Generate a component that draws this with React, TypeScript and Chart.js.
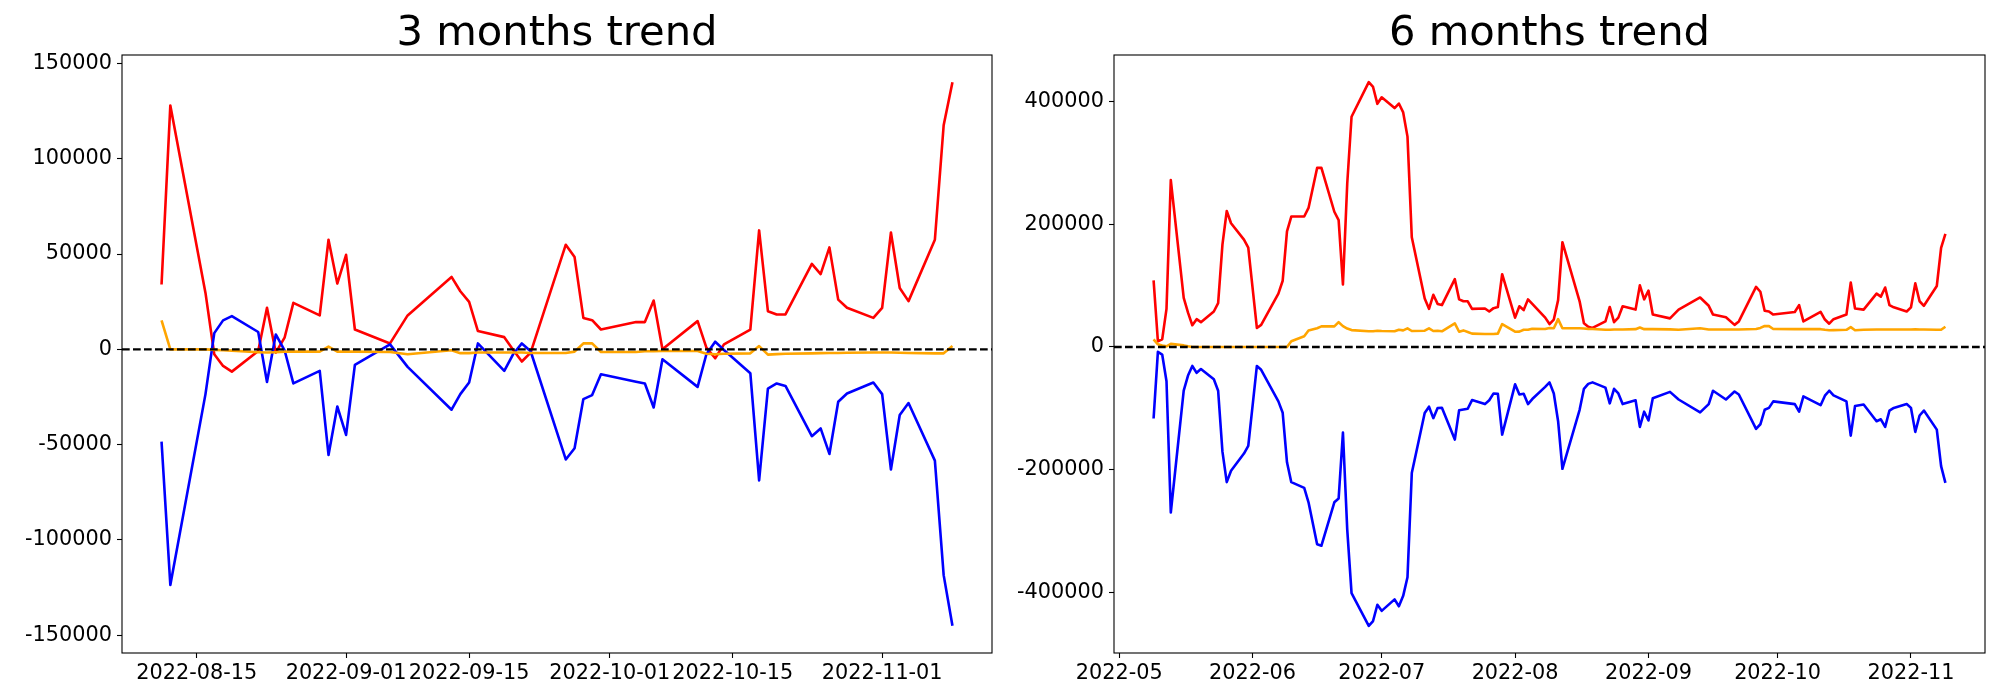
import React, { useEffect, useRef } from 'react';
import { Chart, registerables } from 'chart.js';

Chart.register(...registerables);
Chart.defaults.font.family = 'DejaVu Sans';

// ---------- 3 months trend ----------
const LEFT_DATES = [
  '2022-08-11', '2022-08-12', '2022-08-16', '2022-08-17', '2022-08-18', '2022-08-19',
  '2022-08-22', '2022-08-23', '2022-08-24', '2022-08-25', '2022-08-26',
  '2022-08-29', '2022-08-30', '2022-08-31', '2022-09-01', '2022-09-02',
  '2022-09-06', '2022-09-08',
  '2022-09-13', '2022-09-14', '2022-09-15', '2022-09-16',
  '2022-09-19', '2022-09-20', '2022-09-21', '2022-09-22',
  '2022-09-26', '2022-09-27', '2022-09-28', '2022-09-29', '2022-09-30',
  '2022-10-04', '2022-10-05', '2022-10-06', '2022-10-07',
  '2022-10-11', '2022-10-12', '2022-10-13', '2022-10-14',
  '2022-10-17', '2022-10-18', '2022-10-19', '2022-10-20', '2022-10-21',
  '2022-10-24', '2022-10-25', '2022-10-26', '2022-10-27', '2022-10-28',
  '2022-10-31', '2022-11-01', '2022-11-02', '2022-11-03', '2022-11-04',
  '2022-11-07', '2022-11-08', '2022-11-09',
];
const LEFT_RED = [
  34000, 128000, 29600, -2600, -8700, -11700, -900, 21800, -1700, 6100,
  24400, 17800, 57500, 34500, 49600, 10400, 3100, 17800, 38000, 30500,
  24900, 9600, 6400, -200, -6400, -1700, 54900, 48400, 16500, 15300,
  10400, 14300, 14300, 25600, 0, 14800, 900, -4700, 2600, 10400,
  62400, 20000, 18300, 18300, 44800, 39500, 53500, 26100, 21800, 16500,
  21800, 61300, 32200, 25300, 57500, 117600, 140200,
];
const LEFT_BLUE = [
  -48400, -123700, -23500, 8500, 15200, 17400, 9100, -17100, 7800, -500,
  -17900, -11300, -55400, -30000, -44900, -8200, 2600, -9200, -31700, -23500,
  -17400, 3100, -11300, -2600, 3100, -1000, -57800, -51900, -26100, -24000,
  -13100, -17000, -17900, -30500, -5200, -19700, -2600, 4000, -300, -12500,
  -68800, -20600, -17900, -19200, -45600, -41500, -54900, -27500, -23200, -17400,
  -23500, -63100, -34500, -28200, -58400, -118500, -145100,
];
const LEFT_ORANGE = [
  15200, 0, 0, -300, -500, -700, -1500, -1700, -1500, -1200,
  -1200, -1200, 1400, -1200, -1200, -1200, -1400, -2600, -500, -2000,
  -2000, -1700, -1700, -1700, -1700, -1900, -1900, -1200, 3100, 3100,
  -1400, -1400, -1000, -1000, -900, -900, -2300, -2600, -2300, -2100,
  1700, -2800, -2500, -2300, -2100, -2000, -1900, -1900, -1800, -1700,
  -1700, -1700, -1800, -1900, -2100, -2100, 1700,
];
const LEFT_X_TICKS = ['2022-08-15', '2022-09-01', '2022-09-15', '2022-10-01', '2022-10-15', '2022-11-01'];
const LEFT_Y_TICKS = [-150000, -100000, -50000, 0, 50000, 100000, 150000];

// ---------- 6 months trend ----------
const RIGHT_DATES = [
  '2022-05-09', '2022-05-10', '2022-05-11', '2022-05-12', '2022-05-13',
  '2022-05-16', '2022-05-17', '2022-05-18', '2022-05-19', '2022-05-20',
  '2022-05-23', '2022-05-24', '2022-05-25', '2022-05-26', '2022-05-27',
  '2022-05-30', '2022-05-31', '2022-06-02', '2022-06-03',
  '2022-06-07', '2022-06-08', '2022-06-09', '2022-06-10',
  '2022-06-13', '2022-06-14', '2022-06-16', '2022-06-17',
  '2022-06-20', '2022-06-21', '2022-06-22', '2022-06-23', '2022-06-24',
  '2022-06-28', '2022-06-29', '2022-06-30', '2022-07-01',
  '2022-07-04', '2022-07-05', '2022-07-06', '2022-07-07', '2022-07-08',
  '2022-07-11', '2022-07-12', '2022-07-13', '2022-07-14', '2022-07-15',
  '2022-07-18', '2022-07-19', '2022-07-20', '2022-07-21', '2022-07-22',
  '2022-07-25', '2022-07-26', '2022-07-27', '2022-07-28', '2022-07-29',
  '2022-08-01', '2022-08-02', '2022-08-03', '2022-08-04', '2022-08-05',
  '2022-08-08', '2022-08-09', '2022-08-10', '2022-08-11', '2022-08-12',
  '2022-08-16', '2022-08-17', '2022-08-18', '2022-08-19',
  '2022-08-22', '2022-08-23', '2022-08-24', '2022-08-25', '2022-08-26',
  '2022-08-29', '2022-08-30', '2022-08-31', '2022-09-01', '2022-09-02',
  '2022-09-06', '2022-09-08', '2022-09-13', '2022-09-15', '2022-09-16',
  '2022-09-19', '2022-09-21', '2022-09-22',
  '2022-09-26', '2022-09-27', '2022-09-28', '2022-09-29', '2022-09-30',
  '2022-10-05', '2022-10-06', '2022-10-07',
  '2022-10-11', '2022-10-12', '2022-10-13', '2022-10-14',
  '2022-10-17', '2022-10-18', '2022-10-19', '2022-10-21',
  '2022-10-24', '2022-10-25', '2022-10-26', '2022-10-27', '2022-10-28',
  '2022-10-31', '2022-11-01', '2022-11-02', '2022-11-03', '2022-11-04',
  '2022-11-07', '2022-11-08', '2022-11-09',
];
const RIGHT_RED = [
  108700, 9300, 12400, 62100, 272000,
  80000, 55900, 35400, 45300, 40400,
  57800, 71400, 167000, 221700, 201800,
  175000, 162000, 31000, 36000,
  87000, 108000, 188400, 212700,
  212700, 226700, 292000, 292000,
  220500, 206700, 102000, 266500, 375400,
  431800, 424000, 396500, 407200,
  389500, 397000, 382500, 343000, 178800,
  78900, 62100, 85100, 70200, 68300,
  110500, 77600, 74500, 74500, 62100,
  62700, 57800, 63300, 65200, 118600,
  47800, 66400, 60200, 77600, 70200,
  47800, 37300, 44700, 76400, 170800,
  74500, 38500, 32900, 31000,
  41600, 65200, 40400, 47800, 66400,
  60900, 100600, 77600, 91900, 52800,
  46600, 60900, 80700, 67100, 52800,
  48400, 36000, 41600,
  98100, 90000, 59000, 57800, 52800,
  57100, 68300, 41600,
  57100, 44700, 37900, 45300,
  52800, 105000, 62700, 60900,
  86900, 82000, 96900, 68300, 64600,
  57800, 64600, 103700, 74500, 67100,
  99400, 161500, 184400,
];
const RIGHT_BLUE = [
  -116700, -8100, -12400, -55900, -270000,
  -71400, -46600, -31000, -42200, -36000,
  -52800, -71400, -170800, -220500, -201800,
  -173900, -161500, -31000, -37300,
  -88800, -107400, -188200, -220500,
  -229800, -253400, -321700, -324200,
  -253400, -247200, -139500, -298000, -401600,
  -454800, -447000, -420400, -430400,
  -411700, -422900, -405900, -375500, -205700,
  -107800, -97400, -116100, -99600, -99100,
  -151000, -103100, -102000, -100800, -86600,
  -93200, -86900, -75800, -76400, -142900,
  -61000, -77600, -76400, -93200, -85000,
  -65200, -57800, -75800, -121100, -198700,
  -102500, -68300, -60200, -57800,
  -66400, -91900, -68300, -75800, -93200,
  -86900, -130400, -105600, -119900, -83800,
  -73300, -85700, -106800, -93200, -71400,
  -85700, -72700, -77600,
  -133500, -126100, -102500, -99400, -88800,
  -93200, -105600, -80700,
  -95000, -79500, -71400, -78900,
  -88800, -144700, -96300, -93800,
  -121100, -118000, -130400, -103700, -99400,
  -93200, -99400, -138500, -111800, -103700,
  -134800, -194400, -221700,
];
const RIGHT_ORANGE = [
  12400, 4300, 2500, 1000, 5000,
  2500, 1000, 0, 0, 0,
  0, 0, 0, 0, 0,
  0, 0, 0, 0,
  0, 0, 0, 9300,
  17400, 26700, 30500, 33500,
  33500, 40400, 34000, 30000, 27500,
  25500, 25500, 26500, 26000,
  25500, 28000, 27000, 30400, 26000,
  26500, 30400, 26000, 26500, 25500,
  38500, 24800, 27000, 24500, 21700,
  21100, 21000, 21000, 21700, 37300,
  24800, 25000, 28000, 28000, 29800,
  29200, 31000, 30400, 45300, 30400,
  30400, 30000, 29500, 29200,
  28000, 28000, 28500, 28500, 28500,
  29000, 31700, 29000, 29000, 29000,
  28600, 28000, 30400, 28500, 28500,
  28500, 28500, 28500,
  29200, 31000, 34200, 34000, 29200,
  29000, 29000, 29000,
  29000, 28000, 27300, 27500,
  28000, 32300, 27300, 28000,
  28500, 28500, 28500, 28500, 28500,
  28500, 28500, 28800, 28500, 28500,
  28000, 28000, 32900,
];
const RIGHT_X_TICKS = ['2022-05', '2022-06', '2022-07', '2022-08', '2022-09', '2022-10', '2022-11'];
const RIGHT_Y_TICKS = [-400000, -200000, 0, 200000, 400000];

const DAY = 86400000;
function toDay(s: string): number {
  const [y, m, d] = s.split('-').map(Number);
  return Date.UTC(y, m - 1, d || 1) / DAY;
}
function fmt(v: number, monthly: boolean): string {
  const dt = new Date(Math.round(v) * DAY);
  const y = dt.getUTCFullYear();
  const m = String(dt.getUTCMonth() + 1).padStart(2, '0');
  const d = String(dt.getUTCDate()).padStart(2, '0');
  return monthly ? `${y}-${m}` : `${y}-${m}-${d}`;
}

const framePlugin = {
  id: 'frame',
  afterDatasetsDraw(chart: any) {
    const { ctx, chartArea } = chart;
    const { left, top, right, bottom } = chartArea;
    ctx.save();
    ctx.strokeStyle = '#000';
    ctx.lineWidth = 1.1;
    ctx.strokeRect(left, top, right - left, bottom - top);
    ctx.restore();
  },
};

type Cfg = {
  title: string;
  dates: string[];
  red: number[];
  blue: number[];
  orange: number[];
  xTicks: string[];
  monthly: boolean;
  yTicks: number[];
  padLeft: number;
  padRight: number;
  yWidth: number;
};

function TrendChart({ cfg, left }: { cfg: Cfg; left: number }) {
  const ref = useRef<HTMLCanvasElement>(null);
  useEffect(() => {
    if (!ref.current) return;
    const xs = cfg.dates.map(toDay);
    const xmin0 = Math.min(...xs);
    const xmax0 = Math.max(...xs);
    const xpad = (xmax0 - xmin0) * 0.05;
    const xmin = xmin0 - xpad;
    const xmax = xmax0 + xpad;
    const all = [...cfg.red, ...cfg.blue, ...cfg.orange];
    const ymin0 = Math.min(...all);
    const ymax0 = Math.max(...all);
    const ypad = (ymax0 - ymin0) * 0.05;
    const pts = (arr: number[]) => arr.map((v, i) => ({ x: xs[i], y: v }));
    const tickFont = { family: 'DejaVu Sans', size: 20.8 };
    const chart = new Chart(ref.current, {
      type: 'line',
      data: {
        datasets: [
          { data: [{ x: xmin, y: 0 }, { x: xmax, y: 0 }], borderColor: '#000', borderDash: [7.7, 3.3], borderWidth: 2.4 },
          { data: pts(cfg.orange), borderColor: '#ffa500', borderWidth: 2.6 },
          { data: pts(cfg.blue), borderColor: '#0000ff', borderWidth: 2.6 },
          { data: pts(cfg.red), borderColor: '#ff0000', borderWidth: 2.6 },
        ],
      },
      options: {
        animation: false,
        responsive: false,
        devicePixelRatio: 1,
        elements: {
          point: { radius: 0, hoverRadius: 0 },
          line: { tension: 0, borderJoinStyle: 'round', fill: false },
        },
        layout: { padding: { left: cfg.padLeft, right: cfg.padRight, top: 0, bottom: 0 } },
        plugins: {
          legend: { display: false },
          tooltip: { enabled: false },
          title: {
            display: true,
            text: cfg.title,
            fullSize: false,
            color: '#000',
            font: { family: 'DejaVu Sans', size: 41.7, weight: 'normal', lineHeight: 1 },
            padding: { top: 13.3, bottom: 0 },
          },
        },
        scales: {
          x: {
            type: 'linear',
            min: xmin,
            max: xmax,
            afterBuildTicks: (s: any) => {
              s.ticks = cfg.xTicks.map((t) => ({ value: toDay(t) }));
            },
            afterFit: (s: any) => {
              s.height = 47;
            },
            ticks: {
              autoSkip: false,
              maxRotation: 0,
              minRotation: 0,
              color: '#000',
              font: tickFont,
              padding: 3,
              callback: (v: any) => fmt(Number(v), cfg.monthly),
            },
            grid: { drawOnChartArea: false, drawTicks: true, tickLength: 5, tickColor: '#000', tickWidth: 1.1 },
            border: { display: false },
          },
          y: {
            type: 'linear',
            min: ymin0 - ypad,
            max: ymax0 + ypad,
            afterBuildTicks: (s: any) => {
              s.ticks = cfg.yTicks.map((t) => ({ value: t }));
            },
            afterFit: (s: any) => {
              s.width = cfg.yWidth;
            },
            ticks: {
              color: '#000',
              font: tickFont,
              padding: 5,
              callback: (v: any) => String(v),
            },
            grid: { drawOnChartArea: false, drawTicks: true, tickLength: 5, tickColor: '#000', tickWidth: 1.1 },
            border: { display: false },
          },
        },
      },
      plugins: [framePlugin],
    } as any);
    return () => chart.destroy();
  }, [cfg]);
  return (
    <canvas
      ref={ref}
      width={1000}
      height={700}
      style={{ position: 'absolute', left, top: 0, width: 1000, height: 700 }}
    />
  );
}

const LEFT_CFG: Cfg = {
  title: '3 months trend',
  dates: LEFT_DATES,
  red: LEFT_RED,
  blue: LEFT_BLUE,
  orange: LEFT_ORANGE,
  xTicks: LEFT_X_TICKS,
  monthly: false,
  yTicks: LEFT_Y_TICKS,
  padLeft: 12,
  padRight: 8,
  yWidth: 110,
};

const RIGHT_CFG: Cfg = {
  title: '6 months trend',
  dates: RIGHT_DATES,
  red: RIGHT_RED,
  blue: RIGHT_BLUE,
  orange: RIGHT_ORANGE,
  xTicks: RIGHT_X_TICKS,
  monthly: true,
  yTicks: RIGHT_Y_TICKS,
  padLeft: 9,
  padRight: 15,
  yWidth: 105,
};

export default function App() {
  return (
    <div style={{ position: 'fixed', left: 0, top: 0, width: 2000, height: 700, background: '#fff' }}>
      <TrendChart cfg={LEFT_CFG} left={0} />
      <TrendChart cfg={RIGHT_CFG} left={1000} />
    </div>
  );
}
